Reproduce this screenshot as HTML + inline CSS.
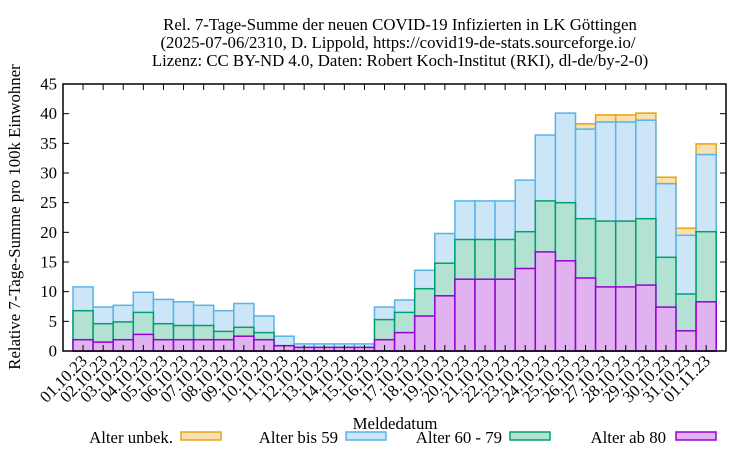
<!DOCTYPE html>
<html><head><meta charset="utf-8"><style>body{margin:0;background:#fff}svg{display:block}text{font-family:"Liberation Serif",serif;font-size:16.8px;fill:#000}</style></head>
<body>
<svg id="s" width="750" height="450" xmlns="http://www.w3.org/2000/svg">
<text x="400" y="30" text-anchor="middle">Rel. 7-Tage-Summe der neuen COVID-19 Infizierten in LK Göttingen</text>
<text x="398" y="48" text-anchor="middle">(2025-07-06/2310, D. Lippold, https://covid19-de-stats.sourceforge.io/</text>
<text x="400" y="66" text-anchor="middle">Lizenz: CC BY-ND 4.0, Daten: Robert Koch-Institut (RKI), dl-de/by-2-0)</text>
<g id="bars"></g>
<rect x="63" y="84" width="663" height="267" fill="none" stroke="#000" stroke-width="1.5"/>
<g id="ax"></g>
<text transform="translate(20,217) rotate(-90)" text-anchor="middle">Relative 7-Tage-Summe pro 100k Einwohner</text>
<text x="395" y="429" text-anchor="middle">Meldedatum</text>
<text x="173" y="443" text-anchor="end">Alter unbek.</text>
<rect x="181" y="432" width="40" height="8" fill="#f8e0b0" stroke="#e8a317" stroke-width="1.5"/>
<text x="338" y="443" text-anchor="end">Alter bis 59</text>
<rect x="346" y="432" width="40" height="8" fill="#cce6f8" stroke="#56b4e9" stroke-width="1.5"/>
<text x="502" y="443" text-anchor="end">Alter 60 - 79</text>
<rect x="510" y="432" width="40" height="8" fill="#b3e2d2" stroke="#009e73" stroke-width="1.5"/>
<text x="666" y="443" text-anchor="end">Alter ab 80</text>
<rect x="676" y="432" width="40" height="8" fill="#e0b3f0" stroke="#9400d3" stroke-width="1.5"/>
</svg>
<script>
var d=[[1.9,6.8,10.8],[1.5,4.6,7.4],[1.9,4.9,7.7],[2.8,6.5,9.9],[1.9,4.6,8.7],[1.9,4.3,8.3],[1.9,4.3,7.7],[1.9,3.3,6.8],[2.5,4.0,8.0],[1.9,3.1,5.9],[0.9,0.9,2.5],[0.6,0.6,1.2],[0.6,0.6,1.2],[0.6,0.6,1.2],[0.6,0.6,1.2],[1.9,5.3,7.4],[3.1,6.5,8.6],[5.9,10.5,13.6],[9.3,14.8,19.8],[12.1,18.8,25.3],[12.1,18.8,25.3],[12.1,18.8,25.3],[13.9,20.1,28.8],[16.7,25.3,36.4],[15.2,25.0,40.1],[12.3,22.3,37.4,38.3],[10.8,21.9,38.6,39.8],[10.8,21.9,38.6,39.8],[11.1,22.3,38.9,40.1],[7.4,15.8,28.2,29.3],[3.4,9.6,19.5,20.7],[8.3,20.1,33.1,34.9]];
var fills=["#e0b3f0","#b3e2d2","#cce6f8","#f8e0b0"],strokes=["#9400d3","#009e73","#56b4e9","#e8a317"];
var Y=function(v){return 351-v*267/45};var w=20.1,x0=73,h="",a="";
for(var l=3;l>=0;l--){for(var i=0;i<32;i++){var v=d[i][l];if(v===undefined)continue;var x=x0+i*w;h+='<rect x="'+x.toFixed(1)+'" y="'+Y(v).toFixed(1)+'" width="'+w.toFixed(1)+'" height="'+(351-Y(v)).toFixed(1)+'" fill="'+fills[l]+'" stroke="'+strokes[l]+'" stroke-width="1.5"/>';}}
document.getElementById("bars").innerHTML=h;
for(var k=0;k<=45;k+=5){var y=Y(k);a+='<text x="57" y="'+(y+5.5)+'" text-anchor="end">'+k+'</text>';if(k>0&&k<45){a+='<line x1="63" x2="69" y1="'+y+'" y2="'+y+'" stroke="#000"/><line x1="720" x2="726" y1="'+y+'" y2="'+y+'" stroke="#000"/>';}}
for(var i=0;i<32;i++){var c=x0+i*w+w/2;a+='<line x1="'+c+'" x2="'+c+'" y1="351" y2="345" stroke="#000"/><line x1="'+c+'" x2="'+c+'" y1="84" y2="90" stroke="#000"/>';var dd=i<31?(i+1<10?"0":"")+(i+1)+".10.23":"01.11.23";a+='<text transform="translate('+(c+5)+',362) rotate(-45)" text-anchor="end">'+dd+'</text>';}
document.getElementById("ax").innerHTML=a;
</script>
</body></html>
